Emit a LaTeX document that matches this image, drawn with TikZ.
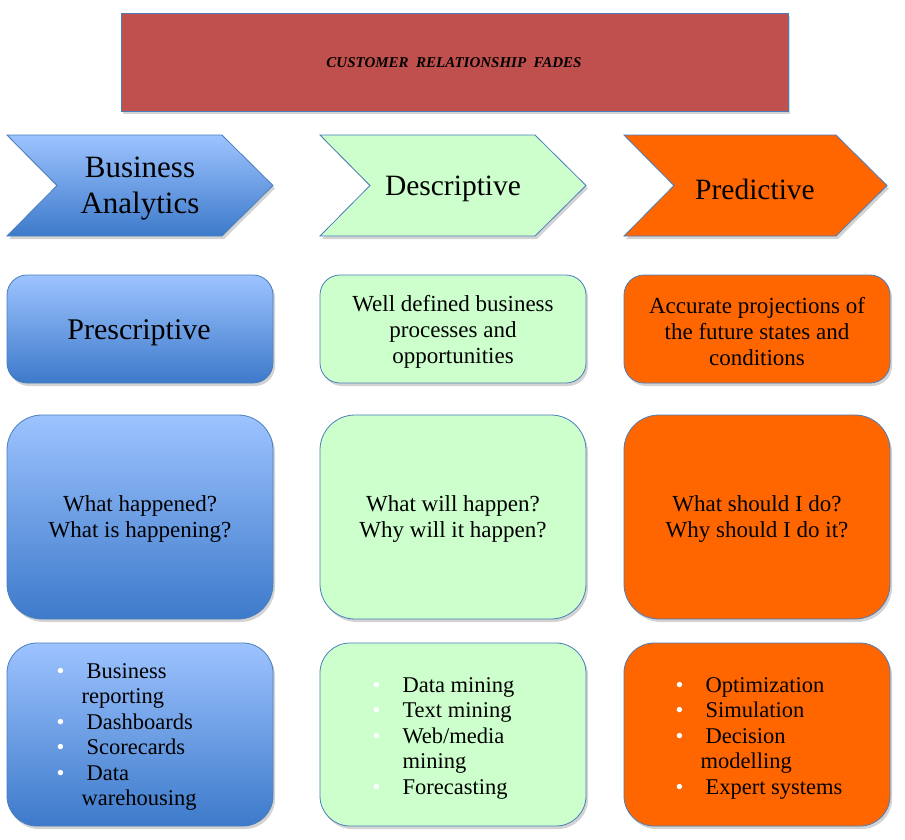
\documentclass[tikz,border=0pt]{standalone}
\usepackage{fontspec}
\setmainfont{Liberation Serif}
\usetikzlibrary{shadows}
\definecolor{crmcolor0001}{RGB}{192,80,77}
\definecolor{crmcolor0002}{RGB}{74,126,187}
\definecolor{crmcolor0003}{RGB}{157,195,255}
\definecolor{crmcolor0004}{RGB}{61,122,202}
\definecolor{crmcolor0005}{RGB}{204,255,204}
\definecolor{crmcolor0006}{RGB}{255,102,0}
\newcommand\bu{\makebox[30pt][l]{\textcolor{white}{\textbullet}}}

\begin{document}
\begin{tikzpicture}[yscale=-1
,pstyle0/.style={draw=crmcolor0002,line width=0.8pt,drop shadow={opacity=0.35,shadow xshift=2pt,shadow yshift=-3pt}}
,pstyle1/.style={pstyle0,top color=crmcolor0003,bottom color=crmcolor0004}
,pstyle2/.style={pstyle0,fill=crmcolor0005}
,pstyle3/.style={pstyle0,fill=crmcolor0006}
,pstyle4/.style={color=black,align=center,font=\fontsize{23}{26}\selectfont}
,pstyle5/.style={color=black,align=left,anchor=north west,font=\fontsize{22.5}{25.5}\selectfont}
]
\useasboundingbox (0pt,0pt) rectangle (905pt,839pt);
% title bar
\draw[pstyle0,fill=crmcolor0001] (121pt,13pt) rectangle (788pt,111pt);
\node (title) at (454pt,63pt)[color=black,font=\fontsize{15}{17}\selectfont\bfseries\itshape]{CUSTOMER~ RELATIONSHIP~ FADES};
% chevrons
\draw[pstyle1] (7pt,135pt) -- (222pt,135pt) -- (273pt,185.5pt) -- (222pt,236pt) -- (7pt,236pt) -- (57pt,185.5pt) -- cycle;
\node (ba) at (140pt,189pt)[pstyle4,font=\fontsize{31}{36}\selectfont]{Business\\Analytics};
\draw[pstyle2] (320pt,135pt) -- (535pt,135pt) -- (586pt,185.5pt) -- (535pt,236pt) -- (320pt,236pt) -- (370pt,185.5pt) -- cycle;
\node (desc) at (453pt,189pt)[pstyle4,font=\fontsize{29.5}{32}\selectfont]{Descriptive};
\draw[pstyle3] (624pt,135pt) -- (836pt,135pt) -- (887pt,185.5pt) -- (836pt,236pt) -- (624pt,236pt) -- (674pt,185.5pt) -- cycle;
\node (pred) at (755pt,189pt)[pstyle4,font=\fontsize{29.5}{32}\selectfont]{Predictive};
% second row
\draw[pstyle1,rounded corners=20pt] (7pt,275pt) rectangle (273pt,383pt);
\node (presc) at (139pt,333pt)[pstyle4,font=\fontsize{30}{32}\selectfont]{Prescriptive};
\draw[pstyle2,rounded corners=20pt] (320pt,275pt) rectangle (586pt,383pt);
\node (well) at (453pt,332pt)[pstyle4]{Well defined business\\processes and\\opportunities};
\draw[pstyle3,rounded corners=20pt] (624pt,275pt) rectangle (890pt,383pt);
\node (acc) at (757pt,332pt)[pstyle4]{Accurate projections of\\the future states and\\conditions};
% third row
\draw[pstyle1,rounded corners=35pt] (7pt,415pt) rectangle (273pt,619pt);
\node (happened) at (140pt,519pt)[pstyle4]{What happened?\\What is happening?};
\draw[pstyle2,rounded corners=35pt] (320pt,415pt) rectangle (586pt,619pt);
\node (will) at (453pt,519pt)[pstyle4]{What will happen?\\Why will it happen?};
\draw[pstyle3,rounded corners=35pt] (624pt,415pt) rectangle (890pt,619pt);
\node (should) at (757pt,519pt)[pstyle4]{What should I do?\\Why should I do it?};
% fourth row
\draw[pstyle1,rounded corners=30pt] (7pt,643pt) rectangle (273pt,826pt);
\node (tools1) at (53pt,660pt)[pstyle5]{\bu Business\\\hspace*{25pt}reporting\\\bu Dashboards\\\bu Scorecards\\\bu Data\\\hspace*{25pt}warehousing};
\draw[pstyle2,rounded corners=30pt] (320pt,643pt) rectangle (586pt,826pt);
\node (tools2) at (369pt,674pt)[pstyle5]{\bu Data mining\\\bu Text mining\\\bu Web/media\\\hspace*{30pt}mining\\\bu Forecasting};
\draw[pstyle3,rounded corners=30pt] (624pt,643pt) rectangle (890pt,826pt);
\node (tools3) at (672pt,674pt)[pstyle5]{\bu Optimization\\\bu Simulation\\\bu Decision\\\hspace*{25pt}modelling\\\bu Expert systems};
\end{tikzpicture}
\end{document}
